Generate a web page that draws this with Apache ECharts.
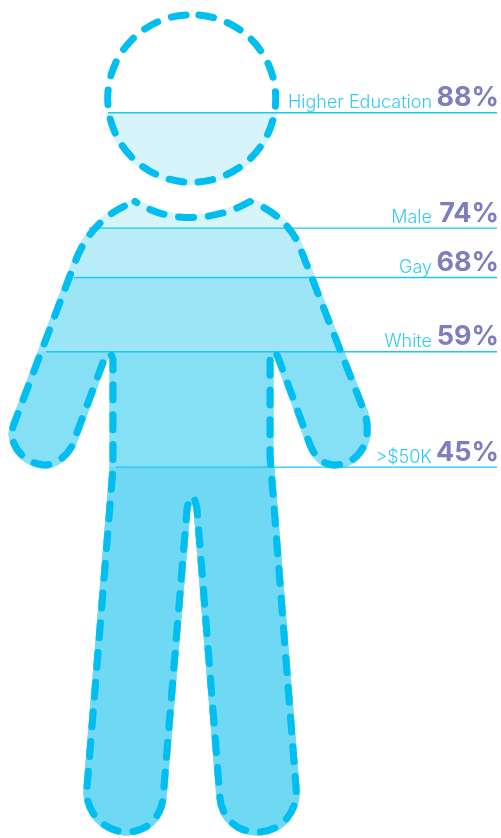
<!DOCTYPE html>
<html>
<head>
<meta charset="utf-8">
<style>html,body{margin:0;padding:0;background:#fff;overflow:hidden}#c{width:501px;height:838px}</style>
<script src="https://cdn.jsdelivr.net/npm/echarts@6/dist/echarts.min.js"></script>
</head>
<body>
<div id="c"></div>
<script>
const categories = ['Higher Education', 'Male', 'Gay', 'White', '>$50K'];
const percents = [88, 74, 68, 59, 45];
const bandColors = ['#d8f4fb', '#b8ecf9', '#9be5f7', '#85dff5', '#6fd9f4'];

// silhouette shapes; the leading moves pin the bounding box to the plot area
const plotBox = 'M0 13.8 M501 840 ';
const headShape = 'M191.7 14.7 A84 84 0 1 1 191.7 182.7 A84 84 0 1 1 191.7 14.7 Z ';
const bodyShape = 'M135 202 Q160 218 190 218 Q222 218 250 202 C270 209 287 222 298 243 L364 412 ' +
  'C374 440 360 466 334 466 C322 466 312 456 307 437 L278 358 Q273 347 270 358 L270 457 L296 790 ' +
  'C298 815 280 834 257 834 C237 834 222 820 220 800 L197 510 Q192 485 187 510 L163 800 ' +
  'C161 820 146 834 127 834 C105 834 85 815 87 790 L113 470 L113 360 Q109 347 103 363 L72 447 ' +
  'C66 458 55 466 45 466 C25 466 6 445 14 425 L75 263 C85 235 105 213 135 202 Z';

const leaderLeft = [108, 89, 74, 46, 116];
const leaderRight = 497, nameRight = 432, pctRight = 499, plotRight = 501;
const outlines = [
  { shape: headShape, dash: [14.8, 14.52], offset: 22 },
  { shape: bodyShape, dash: [15, 14.8], offset: 13 }
];

function figureShape(api, pathData) {
  const tl = api.coord([0, 100]), br = api.coord([plotRight, 0]);
  return { pathData, layout: 'cover', x: tl[0], y: tl[1], width: br[0] - tl[0], height: br[1] - tl[1] };
}

const series = [
  {
    name: 'fill', type: 'custom', coordinateSystem: 'cartesian2d', z: 2, silent: true, clip: false,
    encode: { x: 0, y: 1 },
    data: percents.map((p, i) => [0, p, i]),
    renderItem(params, api) {
      const i = api.value(2), top = api.coord([0, api.value(1)]), br = api.coord([plotRight, 0]);
      return {
        type: 'path', z2: i,
        shape: figureShape(api, plotBox + headShape + bodyShape),
        style: { fill: bandColors[i], stroke: bandColors[i], lineWidth: 7, lineJoin: 'round' },
        clipPath: { type: 'rect', shape: { x: top[0], y: top[1], width: br[0] - top[0], height: br[1] - top[1] } }
      };
    }
  },
  {
    name: 'leaders', type: 'custom', coordinateSystem: 'cartesian2d', z: 10, silent: true, clip: false,
    encode: { x: 0, y: 1 },
    data: percents.map((p, i) => [leaderLeft[i], p, i]),
    renderItem(params, api) {
      const i = api.value(2), v = api.value(1);
      const a = api.coord([api.value(0), v]), b = api.coord([leaderRight, v]);
      return { type: 'group', children: [
        { type: 'line', shape: { x1: a[0], y1: a[1], x2: b[0], y2: b[1] }, style: { stroke: '#1fc6f0', lineWidth: 1.4 } },
        { type: 'text', style: { text: categories[i], x: nameRight, y: a[1] - 1, align: 'right', verticalAlign: 'bottom',
          fill: '#35caf1', font: '300 18px Inter' } },
        { type: 'text', style: { text: v + '%', x: pctRight, y: a[1] - 1, align: 'right', verticalAlign: 'bottom',
          fill: '#7e7dbd', font: '700 27px Inter' } }
      ] };
    }
  },
  {
    name: 'outline', type: 'custom', coordinateSystem: 'cartesian2d', z: 20, silent: true, clip: false,
    encode: { x: 0, y: 1 },
    data: outlines.map((o, i) => [0, 100, i]),
    renderItem(params, api) {
      const o = outlines[api.value(2)];
      return {
        type: 'path',
        shape: figureShape(api, plotBox + o.shape),
        style: { fill: 'none', stroke: '#00bef0', lineWidth: 7, lineDash: o.dash, lineDashOffset: o.offset, lineCap: 'round' }
      };
    }
  }
];

const chart = echarts.init(document.getElementById('c'), null, { renderer: 'canvas', width: 501, height: 838 });
chart.setOption({
  animation: false,
  grid: { left: 0, top: 13.8, width: plotRight, height: 826.2, containLabel: false },
  xAxis: { type: 'value', min: 0, max: plotRight, show: false },
  yAxis: { type: 'value', min: 0, max: 100, show: false },
  series
});
</script>
</body>
</html>
